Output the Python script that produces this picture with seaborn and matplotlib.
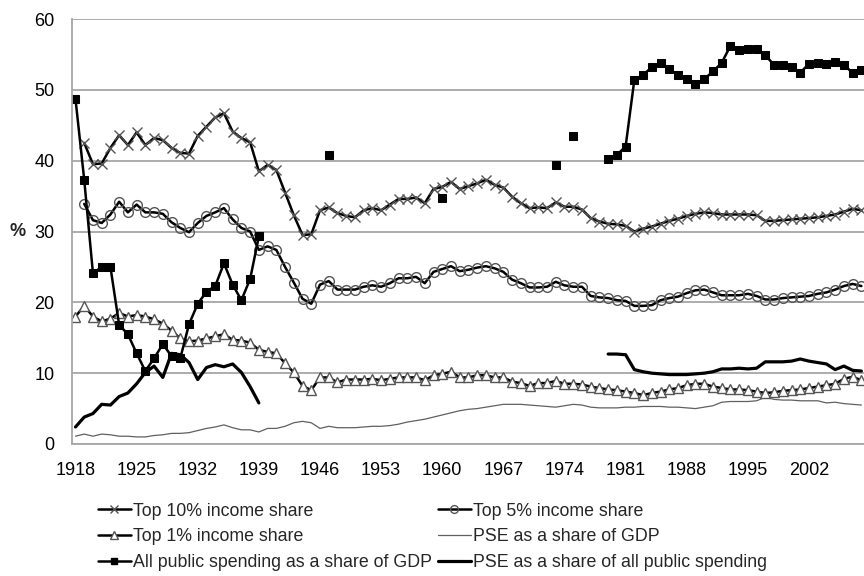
import numpy as np
import pandas as pd
import seaborn as sns
import matplotlib.pyplot as plt
from matplotlib.lines import Line2D

# ------------------------------------------
# DATA (1918-2008)
# ------------------------------------------
years = list(range(1918, 2009))
nan = np.nan

top10 = [nan, 42.5, 39.5, 39.6, 41.8, 43.6, 42.2, 44.0, 42.2, 43.2,
         42.9, 41.8, 41.1, 41.0, 43.5, 44.8, 46.1, 46.7, 44.1, 43.2,
         42.6, 38.5, 39.4, 38.7, 35.5, 32.3, 29.5, 29.6, 33.0, 33.4,
         32.6, 32.2, 32.0, 33.0, 33.3, 33.0, 33.8, 34.6, 34.6, 34.8,
         34.0, 36.0, 36.3, 37.0, 36.0, 36.4, 36.8, 37.3, 36.6, 36.2,
         34.9, 34.0, 33.3, 33.4, 33.3, 34.1, 33.5, 33.5, 33.1, 31.9,
         31.4, 31.1, 31.0, 30.8, 30.0, 30.4, 30.7, 31.1, 31.5, 31.8,
         32.2, 32.5, 32.7, 32.6, 32.4, 32.4, 32.4, 32.4, 32.3, 31.5,
         31.5, 31.6, 31.7, 31.8, 31.9, 32.0, 32.2, 32.4, 32.8, 33.2,
         33.0]

top5 = [nan, 33.9, 31.6, 31.2, 32.4, 34.2, 32.7, 33.8, 32.7, 32.7,
        32.5, 31.3, 30.5, 29.9, 31.2, 32.2, 32.7, 33.3, 31.7, 30.5,
        30.0, 27.4, 27.9, 27.4, 25.0, 22.8, 20.5, 19.8, 22.5, 23.0,
        21.8, 21.8, 21.8, 22.2, 22.4, 22.2, 22.7, 23.4, 23.4, 23.6,
        22.7, 24.3, 24.7, 25.1, 24.4, 24.6, 24.9, 25.1, 24.8, 24.3,
        23.2, 22.7, 22.1, 22.1, 22.2, 22.9, 22.4, 22.2, 22.2, 20.9,
        20.7, 20.6, 20.3, 20.2, 19.5, 19.5, 19.6, 20.3, 20.6, 20.8,
        21.3, 21.7, 21.8, 21.4, 21.0, 21.0, 21.0, 21.2, 20.9, 20.4,
        20.4, 20.6, 20.7, 20.8, 20.9, 21.2, 21.4, 21.8, 22.3, 22.6,
        22.3]

top1 = [18.0, 19.5, 18.0, 17.3, 17.7, 18.5, 18.0, 18.2, 18.0, 17.6,
        17.0, 16.0, 14.9, 14.5, 14.6, 14.9, 15.2, 15.5, 14.7, 14.6,
        14.3, 13.3, 13.0, 12.8, 11.4, 10.1, 8.2, 7.6, 9.4, 9.4,
        8.7, 9.1, 9.1, 9.1, 9.2, 9.0, 9.2, 9.4, 9.4, 9.4,
        9.0, 9.7, 9.9, 10.2, 9.4, 9.4, 9.7, 9.7, 9.4, 9.4,
        8.8, 8.6, 8.2, 8.6, 8.6, 8.9, 8.5, 8.5, 8.4, 8.1,
        7.9, 7.7, 7.6, 7.4, 7.2, 6.9, 7.2, 7.4, 7.7, 7.9,
        8.3, 8.5, 8.5, 8.1, 7.9, 7.7, 7.7, 7.6, 7.4, 7.2,
        7.3, 7.5, 7.6, 7.7, 7.9, 8.1, 8.3, 8.5, 9.2, 9.5,
        9.0]

pse_gdp = [1.1, 1.4, 1.1, 1.4, 1.3, 1.1, 1.1, 1.0, 1.0, 1.2,
           1.3, 1.5, 1.5, 1.6, 1.9, 2.2, 2.4, 2.7, 2.3, 2.0,
           2.0, 1.7, 2.2, 2.2, 2.5, 3.0, 3.2, 3.0, 2.2, 2.5,
           2.3, 2.3, 2.3, 2.4, 2.5, 2.5, 2.6, 2.8, 3.1, 3.3,
           3.5, 3.8, 4.1, 4.4, 4.7, 4.9, 5.0, 5.2, 5.4, 5.6,
           5.6, 5.6, 5.5, 5.4, 5.3, 5.2, 5.4, 5.6, 5.5, 5.2,
           5.1, 5.1, 5.1, 5.2, 5.2, 5.3, 5.3, 5.3, 5.2, 5.2,
           5.1, 5.0, 5.2, 5.4, 5.9, 6.0, 6.0, 6.0, 6.1, 6.6,
           6.3, 6.2, 6.2, 6.1, 6.1, 6.1, 5.8, 5.9, 5.7, 5.6,
           5.5]

all_public = [48.7, 37.3, 24.1, 25.0, 25.0, 16.8, 15.5, 12.8, 10.3, 12.1,
              14.1, 12.4, 12.1, 16.9, 19.8, 21.5, 22.3, 25.5, 22.5, 20.3,
              23.3, 29.3, nan, nan, nan, nan, nan, nan, nan, 40.8,
              nan, nan, nan, nan, nan, nan, nan, nan, nan, nan,
              nan, nan, 34.7, nan, nan, nan, nan, nan, nan, nan,
              nan, nan, nan, nan, nan, 39.4, nan, 43.5, nan, nan,
              nan, 40.2, 40.8, 42.0, 51.4, 52.1, 53.2, 53.8, 52.9, 52.1,
              51.6, 50.8, 51.5, 52.6, 53.8, 56.2, 55.6, 55.7, 55.7, 54.9,
              53.5, 53.5, 53.2, 52.4, 53.7, 53.8, 53.7, 53.9, 53.5, 52.4,
              52.8]

pse_share = [2.4, 3.8, 4.3, 5.6, 5.5, 6.7, 7.2, 8.5, 10.1, 11.0,
             9.4, 12.8, 12.6, 11.5, 9.1, 10.8, 11.2, 10.9, 11.3, 10.1,
             8.1, 5.8, nan, nan, nan, nan, nan, nan, nan, nan,
             nan, nan, nan, nan, nan, nan, nan, nan, nan, nan,
             nan, nan, nan, nan, nan, nan, nan, nan, nan, nan,
             nan, nan, nan, nan, nan, nan, nan, nan, nan, nan,
             nan, 12.7, 12.7, 12.6, 10.5, 10.2, 10.0, 9.9, 9.8, 9.8,
             9.8, 9.9, 10.0, 10.2, 10.6, 10.6, 10.7, 10.6, 10.7, 11.6,
             11.6, 11.6, 11.7, 12.0, 11.7, 11.5, 11.3, 10.5, 11.0, 10.4,
             10.3]

labels = ['Top 10% income share', 'Top 5% income share',
          'Top 1% income share', 'PSE as a share of GDP',
          'All public spending as a share of GDP',
          'PSE as a share of all public spending']

# ------------------------------------------
# SETUP & THEMING
# ------------------------------------------
sns.set_theme(style="white")
plt.rcParams['font.family'] = ['Liberation Sans', 'DejaVu Sans']
grey = '#a6a6a6'


def to_frame(values):
    # split the series into runs so gaps stay gaps
    df = pd.DataFrame({'year': years, 'value': values})
    df['seg'] = df['value'].isna().cumsum()
    return df.dropna()


styles = {
    labels[0]: dict(color='black', lw=1.8, marker='x', ms=6.5, mec='#555555', mew=1.0),
    labels[1]: dict(color='black', lw=1.8, marker='o', ms=7, mfc='none', mec='#555555', mew=1.0),
    labels[2]: dict(color='black', lw=1.8, marker='^', ms=7, mfc='white', mec='#555555', mew=1.0),
    labels[3]: dict(color='#606060', lw=0.9),
    labels[4]: dict(color='black', lw=1.8, marker='s', ms=6, mfc='black', mec='black'),
    labels[5]: dict(color='black', lw=2.3),
}
series = dict(zip(labels, [top10, top5, top1, pse_gdp, all_public, pse_share]))

fig = plt.figure(figsize=(8.64, 5.76), dpi=100)
ax = fig.add_axes([72 / 864, 1 - 444 / 576, 792 / 864, 425 / 576])

for name in [labels[3], labels[2], labels[1], labels[0], labels[5], labels[4]]:
    sns.lineplot(data=to_frame(series[name]), x='year', y='value', units='seg',
                 estimator=None, ax=ax, legend=False, **styles[name])

# axes cosmetics
ax.set_xlim(1917.6, 2008.3)
ax.set_ylim(0, 60)
ax.set_xticks(list(range(1918, 2003, 7)))
ax.set_yticks(list(range(0, 61, 10)))
ax.yaxis.grid(True, color=grey, lw=1.3)
ax.xaxis.grid(False)
for side in ['top', 'right']:
    ax.spines[side].set_visible(False)
for side in ['left', 'bottom']:
    ax.spines[side].set_color(grey)
    ax.spines[side].set_linewidth(1.3)
ax.tick_params(axis='both', which='major', labelsize=13, colors=grey,
               labelcolor='black', width=1.3, direction='out')
ax.tick_params(axis='x', length=3, pad=10)
ax.tick_params(axis='y', length=4.5, pad=8)
ax.set_xlabel('')
ax.set_ylabel('%', rotation=0, fontsize=13, fontweight='bold', labelpad=12, va='center')

# legend laid out in two columns, row by row
order = [0, 2, 4, 1, 3, 5]
handles = [Line2D([], [], **styles[labels[i]]) for i in order]
fig.legend(handles, [labels[i] for i in order], ncol=2, frameon=False,
           loc='upper left', bbox_to_anchor=(0.103, 0.143), fontsize=12.8,
           handlelength=1.85, handletextpad=0.15, columnspacing=0.3,
           labelspacing=0.5, borderpad=0, markerscale=0.8)

fig.savefig('out.png', dpi=100)
